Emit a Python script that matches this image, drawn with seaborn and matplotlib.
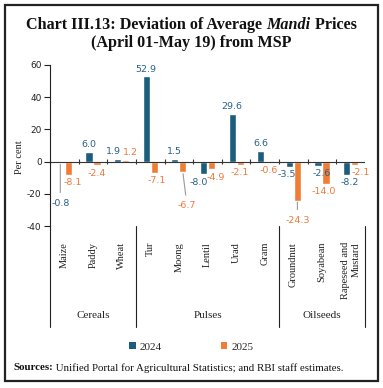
import numpy as np
import pandas as pd
import matplotlib
matplotlib.use("Agg")
import matplotlib.pyplot as plt
import matplotlib.transforms as mtransforms
from matplotlib.patches import Patch, Rectangle
from matplotlib.lines import Line2D
import seaborn as sns

# ---------------- data ----------------
crops = ["Maize", "Paddy", "Wheat", "Tur", "Moong", "Lentil", "Urad", "Gram",
         "Groundnut", "Soyabean", "Rapeseed and\nMustard"]
groups = ["Cereals", "Pulses", "Oilseeds"]
group_sizes = [3, 5, 3]
years = ["2024", "2025"]
vals_2024 = [-0.8, 6.0, 1.9, 52.9, 1.5, -8.0, 29.6, 6.6, -3.5, -2.6, -8.2]
vals_2025 = [-8.1, -2.4, 1.2, -7.1, -6.7, -4.9, -2.1, -0.6, -24.3, -14.0, -2.1]
yticks = [-40, -20, 0, 20, 40, 60]

df = pd.DataFrame({
    "crop": crops * 2,
    "value": vals_2024 + vals_2025,
    "year": [years[0]] * len(crops) + [years[1]] * len(crops),
})

BLUE = "#1c5d7e"
ORANGE = "#f07d36"
BLUE_T = "#27628a"
ORANGE_T = "#f07a3a"
SERIF = ["Liberation Serif", "DejaVu Serif"]
SANS = ["DejaVu Sans"]

sns.set_theme(style="white")
plt.rcParams["font.family"] = SERIF

W, H = 383, 388
fig = plt.figure(figsize=(W / 100, H / 100), dpi=100)
ax = fig.add_axes([50 / W, 1 - 226 / H, 315 / W, 161 / H])

sns.barplot(data=df, x="crop", y="value", hue="year", order=crops,
            hue_order=years, palette=[BLUE, ORANGE], width=0.56, gap=0.1,
            saturation=1, legend=False, ax=ax)

ax.set_xlim(-0.5, len(crops) - 0.5)
ax.set_ylim(-40, 60)
ax.set_yticks(yticks)
ax.set_yticklabels([str(t) for t in yticks], family=SANS, fontsize=6.5, color="#222")
ax.tick_params(axis="y", direction="out", length=4, width=0.8, color="#222", pad=2, left=True)
ax.set_xlabel("")
ax.set_ylabel("Per cent", fontsize=7.5, color="#222")
ax.yaxis.set_label_coords(-0.084, 0.43)

ax.set_xticks(range(len(crops)))
ax.set_xticklabels(crops, rotation=90, ha="center", va="top",
                   multialignment="right", fontsize=7.5, color="#222")
ax.tick_params(axis="x", length=0, pad=11.5, bottom=True)

for s in ["top", "right", "bottom"]:
    ax.spines[s].set_visible(False)
ax.spines["left"].set_color("#222")
ax.spines["left"].set_linewidth(0.8)
ax.grid(False)

# zero line with boundary ticks
ax.axhline(0, color="#333", lw=0.8, zorder=1)
bounds = np.arange(-0.5, len(crops), 1.0)
ax.vlines(bounds, -1.6, 1.6, color="#333", lw=0.8, zorder=1)

# group separators below the plot
trans = mtransforms.blended_transform_factory(ax.transData, ax.transAxes)
edges = np.concatenate([[0], np.cumsum(group_sizes)]) - 0.5
for e in edges:
    ax.add_line(Line2D([e, e], [0, -0.627], transform=trans, color="#222",
                       lw=0.8, clip_on=False))
for g, a, b in zip(groups, edges[:-1], edges[1:]):
    ax.text((a + b) / 2, -0.553, g, transform=trans, ha="center", va="center",
            fontsize=8, color="#222")

# value labels
leader = {(0, 0): 29, (1, 4): 24, (1, 8): 14}
dx = {(1, 0): 3, (0, 2): -3, (1, 2): 3.5, (0, 5): -3.5, (1, 5): 3, (0, 8): -2,
      (0, 9): 3, (1, 9): -2, (0, 10): 2.5, (1, 10): 4.5, (1, 3): 2, (1, 4): 3}
for hi, (cont, vals, col) in enumerate(zip(ax.containers, [vals_2024, vals_2025],
                                           [BLUE_T, ORANGE_T])):
    for ci, (bar, v) in enumerate(zip(cont.patches, vals)):
        xc = bar.get_x() + bar.get_width() / 2
        ox = dx.get((hi, ci), 0)
        if (hi, ci) in leader:
            ax.annotate(f"{v:.1f}", xy=(xc, v), xytext=(ox, -leader[(hi, ci)]),
                        textcoords="offset points", ha="center", va="center",
                        fontsize=6.8, family=SANS, color=col,
                        arrowprops=dict(arrowstyle="-", color="#9a9a9a", lw=0.8,
                                        shrinkA=2, shrinkB=1))
        else:
            oy = 5.2 if v >= 0 else -5.5
            ax.annotate(f"{v:.1f}", xy=(xc, v), xytext=(ox, oy),
                        textcoords="offset points", ha="center", va="center",
                        fontsize=6.8, family=SANS, color=col)

# legend
handles = [Patch(facecolor=BLUE, edgecolor="none"), Patch(facecolor=ORANGE, edgecolor="none")]
fig.legend(handles, years, loc="center", bbox_to_anchor=(191 / W, 1 - 347 / H),
           ncol=2, frameon=False, fontsize=8, handlelength=0.6, handleheight=0.6,
           handletextpad=0.35, columnspacing=5.3, borderpad=0)

# outer frame
fig.patches.append(Rectangle((5 / W, 1 - 381 / H), 373 / W, 376 / H,
                             transform=fig.transFigure, fill=False,
                             edgecolor="#222", lw=1.6))


def rich_line(pieces, y_px, x_px=None, align="center", size=10):
    texts = []
    for s, w, st in pieces:
        texts.append(fig.text(0, 1 - y_px / H, s, fontsize=size, fontweight=w,
                              fontstyle=st, va="center", ha="left", color="#111"))
    fig.canvas.draw()
    r = fig.canvas.get_renderer()
    widths = [t.get_window_extent(r).width for t in texts]
    total = sum(widths)
    x0 = (W / 2 - total / 2) if align == "center" else x_px
    for t, w_ in zip(texts, widths):
        t.set_x(x0 / W)
        x0 += w_


rich_line([("Chart III.13: Deviation of Average ", "bold", "normal"),
           ("Mandi", "bold", "italic"),
           (" Prices", "bold", "normal")], 25, size=11.6)
rich_line([("(April 01-May 19) from MSP", "bold", "normal")], 43, size=11.6)
rich_line([("Sources:", "bold", "normal"),
           (" Unified Portal for Agricultural Statistics; and RBI staff estimates.", "normal", "normal")],
          368, x_px=13, align="left", size=7.8)

fig.savefig("out.png", dpi=100)
